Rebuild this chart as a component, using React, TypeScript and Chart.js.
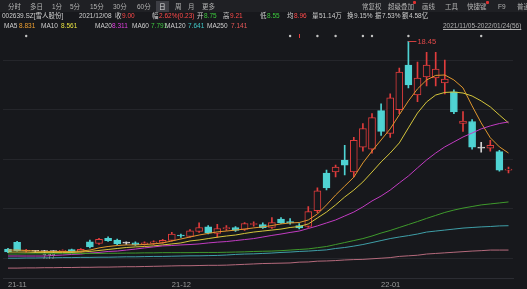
import React, { useEffect, useRef } from "react";
import { Chart, registerables } from "chart.js";

Chart.register(...registerables);

const dates = [
  "2021-11-05","2021-11-08","2021-11-09","2021-11-10","2021-11-11","2021-11-12","2021-11-15","2021-11-16","2021-11-17","2021-11-18",
  "2021-11-19","2021-11-22","2021-11-23","2021-11-24","2021-11-25","2021-11-26","2021-11-29","2021-11-30",
  "2021-12-01","2021-12-02","2021-12-03","2021-12-06","2021-12-07","2021-12-08","2021-12-09","2021-12-10","2021-12-13","2021-12-14",
  "2021-12-15","2021-12-16","2021-12-17","2021-12-20","2021-12-21","2021-12-22","2021-12-23","2021-12-24","2021-12-27","2021-12-28",
  "2021-12-29","2021-12-30","2021-12-31",
  "2022-01-04","2022-01-05","2022-01-06","2022-01-07","2022-01-10","2022-01-11","2022-01-12","2022-01-13","2022-01-14","2022-01-17",
  "2022-01-18","2022-01-19","2022-01-20","2022-01-21","2022-01-24",
];
const monthTickLabels = ["21-11", "21-12", "22-01"];

const opens = [
  7.96, 8.30, 7.86, 7.85, 7.84, 7.83, 7.85, 7.93, 7.82, 8.32,
  8.24, 8.50, 8.42, 8.26, 8.27, 8.20, 8.25, 8.30, 8.40, 8.66,
  8.60, 8.85, 9.08, 8.75, 8.98, 9.05, 8.95, 9.20, 9.20, 9.05,
  9.48, 9.35, 9.15, 9.10, 9.90, 11.80, 11.85, 12.45, 11.85, 13.10,
  13.00, 14.95, 13.80, 15.00, 17.25, 15.75, 16.65, 16.60, 16.35, 15.90,
  14.30, 14.40, 13.06, 13.05, 12.88, 11.95,
];
const highs = [
  8.00, 8.35, 7.95, 7.90, 7.90, 7.88, 7.92, 7.96, 7.98, 8.42,
  8.50, 8.58, 8.46, 8.33, 8.32, 8.32, 8.38, 8.45, 8.80, 8.72,
  8.95, 9.28, 9.15, 9.21, 9.15, 9.10, 9.30, 9.33, 9.28, 9.55,
  9.55, 9.50, 9.25, 10.10, 11.05, 11.95, 12.20, 13.20, 13.60, 14.30,
  14.80, 15.30, 15.80, 17.10, 18.45, 17.40, 17.90, 17.90, 17.50, 16.00,
  14.90, 14.50, 13.35, 13.45, 12.95, 12.10,
];
const lows = [
  7.78, 7.85, 7.80, 7.79, 7.77, 7.78, 7.80, 7.78, 7.80, 8.02,
  8.20, 8.35, 8.18, 8.20, 8.15, 8.16, 8.20, 8.26, 8.36, 8.55,
  8.56, 8.80, 8.72, 8.55, 8.90, 8.85, 8.90, 9.12, 9.00, 9.00,
  9.25, 9.22, 8.98, 9.05, 9.80, 10.95, 11.60, 11.70, 11.60, 12.90,
  12.80, 13.70, 13.60, 14.80, 16.10, 15.40, 16.20, 16.20, 15.80, 14.80,
  13.90, 13.00, 12.85, 12.90, 11.90, 11.80,
];
const closes = [
  7.82, 7.88, 7.90, 7.85, 7.84, 7.83, 7.88, 7.80, 7.95, 8.07,
  8.45, 8.38, 8.22, 8.26, 8.18, 8.28, 8.33, 8.40, 8.72, 8.62,
  8.88, 9.05, 8.77, 9.00, 9.05, 8.90, 9.25, 9.25, 9.04, 9.30,
  9.28, 9.28, 9.03, 9.85, 10.90, 11.05, 12.10, 12.20, 13.45, 14.05,
  14.60, 13.90, 15.60, 16.90, 16.25, 16.60, 17.25, 17.05, 16.55, 14.88,
  14.42, 13.10, 13.06, 13.20, 11.95, 12.00,
];

const ma5 = [
  7.91, 7.91, 7.89, 7.86, 7.84, 7.84, 7.84, 7.84, 7.86, 7.91,
  8.02, 8.09, 8.14, 8.17, 8.17, 8.19, 8.22, 8.27, 8.37, 8.47,
  8.57, 8.67, 8.75, 8.83, 8.87, 8.92, 8.97, 9.03, 9.08, 9.15,
  9.23, 9.28, 9.30, 9.43, 9.73, 10.19, 10.69, 11.14, 11.59, 12.31,
  12.91, 13.47, 14.03, 14.74, 15.44, 16.05, 16.50, 16.73, 16.75, 16.50,
  16.10, 15.19, 14.33, 13.58, 13.12, 12.81,
];
const ma10 = [
  7.81, 7.81, 7.81, 7.79, 7.79, 7.79, 7.79, 7.79, 7.81, 7.84,
  7.89, 7.94, 7.99, 8.04, 8.07, 8.09, 8.12, 8.17, 8.22, 8.27,
  8.37, 8.42, 8.49, 8.56, 8.62, 8.67, 8.75, 8.82, 8.87, 8.92,
  8.97, 9.05, 9.10, 9.23, 9.53, 9.83, 10.19, 10.59, 10.94, 11.35,
  11.85, 12.36, 12.81, 13.32, 14.08, 14.83, 15.39, 15.74, 15.87, 15.89,
  15.84, 15.69, 15.44, 15.14, 14.73, 14.33,
];
const ma20 = [
  7.61, 7.61, 7.61, 7.61, 7.61, 7.64, 7.66, 7.69, 7.71, 7.76,
  7.79, 7.84, 7.86, 7.91, 7.96, 8.02, 8.07, 8.12, 8.14, 8.17,
  8.19, 8.22, 8.27, 8.31, 8.34, 8.39, 8.44, 8.49, 8.57, 8.65,
  8.72, 8.80, 8.87, 9.00, 9.13, 9.28, 9.43, 9.63, 9.83, 10.09,
  10.39, 10.64, 10.94, 11.30, 11.65, 12.06, 12.46, 12.81, 13.12, 13.37,
  13.62, 13.82, 14.03, 14.18, 14.30, 14.38,
];
const ma60 = [
  7.71, 7.71, 7.72, 7.72, 7.72, 7.73, 7.73, 7.73, 7.74, 7.74,
  7.74, 7.75, 7.75, 7.76, 7.76, 7.77, 7.77, 7.78, 7.78, 7.78,
  7.78, 7.79, 7.79, 7.79, 7.80, 7.81, 7.82, 7.84, 7.85, 7.86,
  7.88, 7.91, 7.94, 7.97, 8.03, 8.09, 8.19, 8.29, 8.39, 8.49,
  8.62, 8.77, 8.90, 9.05, 9.20, 9.35, 9.51, 9.66, 9.81, 9.93,
  10.03, 10.11, 10.19, 10.24, 10.29, 10.34,
];
const ma120 = [
  7.50, 7.50, 7.51, 7.51, 7.52, 7.52, 7.53, 7.53, 7.54, 7.54,
  7.55, 7.55, 7.56, 7.57, 7.57, 7.58, 7.59, 7.59, 7.60, 7.61,
  7.62, 7.62, 7.63, 7.64, 7.66, 7.69, 7.71, 7.72, 7.74, 7.76,
  7.79, 7.81, 7.84, 7.86, 7.89, 7.92, 7.99, 8.04, 8.11, 8.19,
  8.29, 8.39, 8.49, 8.57, 8.64, 8.72, 8.82, 8.87, 8.92, 8.97,
  9.02, 9.05, 9.08, 9.10, 9.13, 9.14,
];
const ma250 = [
  7.00, 7.00, 7.01, 7.01, 7.02, 7.02, 7.03, 7.03, 7.04, 7.04,
  7.05, 7.05, 7.06, 7.07, 7.07, 7.08, 7.09, 7.10, 7.11, 7.12,
  7.12, 7.13, 7.14, 7.14, 7.15, 7.17, 7.19, 7.21, 7.23, 7.24,
  7.25, 7.26, 7.30, 7.31, 7.35, 7.36, 7.38, 7.41, 7.43, 7.44,
  7.47, 7.50, 7.53, 7.59, 7.62, 7.65, 7.71, 7.74, 7.77, 7.80,
  7.83, 7.86, 7.88, 7.91, 7.91, 7.91,
];

const eventMarkers = [2, 31, 34, 36, 39, 40, 44, 52];
const alertMarkers = [32];

const BG = "#17181c";
const UP = "#e03c3c";
const DOWN = "#4fd3d3";
const FLAT = "#d2d2d2";
const FONT = '"Liberation Sans", "Noto Sans CJK SC", sans-serif';

const candleColor = (i: number) =>
  closes[i] > opens[i] ? UP : closes[i] < opens[i] ? DOWN : FLAT;

const annotate = {
  id: "annotate",
  afterDatasetsDraw(chart: any) {
    const { ctx, chartArea, scales } = chart;
    const x = scales.x;
    const y = scales.y;
    ctx.save();
    ctx.fillStyle = "#c4c4c4";
    for (const i of eventMarkers) {
      ctx.beginPath();
      ctx.arc(x.getPixelForValue(i), chartArea.top + 2, 1.2, 0, Math.PI * 2);
      ctx.fill();
    }
    ctx.strokeStyle = UP;
    ctx.lineWidth = 1;
    for (const i of alertMarkers) {
      const px = Math.round(x.getPixelForValue(i)) + 0.5;
      ctx.beginPath();
      ctx.moveTo(px, chartArea.top);
      ctx.lineTo(px, chartArea.top + 4);
      ctx.stroke();
    }
    let hi = 0;
    highs.forEach((v, i) => { if (v > highs[hi]) hi = i; });
    const hx = x.getPixelForValue(hi);
    const hy = Math.round(y.getPixelForValue(highs[hi])) + 0.5;
    ctx.strokeStyle = "#d04040";
    ctx.beginPath();
    ctx.moveTo(hx, hy);
    ctx.lineTo(hx + 8, hy);
    ctx.stroke();
    ctx.fillStyle = "#e04848";
    ctx.font = "7.5px " + FONT;
    ctx.textBaseline = "middle";
    ctx.textAlign = "left";
    ctx.fillText(highs[hi].toFixed(2), hx + 9, hy);
    let lo = 0;
    lows.forEach((v, i) => { if (v < lows[lo]) lo = i; });
    const lx = x.getPixelForValue(lo);
    const ly = y.getPixelForValue(lows[lo]);
    ctx.fillStyle = "#a9b0a0";
    ctx.font = "6.5px " + FONT;
    ctx.fillText(lows[lo].toFixed(2), lx - 2, ly + 4);
    ctx.restore();
  },
};

function T(props: { x: number; y: number; c?: string; u?: boolean; children: any }) {
  return (
    <span
      style={{
        position: "absolute",
        left: props.x,
        top: props.y,
        color: props.c || "#cfcfcf",
        fontSize: "6.5px",
        lineHeight: "10px",
        whiteSpace: "nowrap",
        textDecoration: props.u ? "underline" : "none",
      }}
    >
      {props.children}
    </span>
  );
}

export default function App() {
  const ref = useRef<HTMLCanvasElement | null>(null);

  useEffect(() => {
    document.body.style.margin = "0";
    document.body.style.background = BG;
    const colors = opens.map((_, i) => candleColor(i));
    const monthStarts: number[] = [];
    dates.forEach((d, i) => {
      if (i === 0 || d.slice(0, 7) !== dates[i - 1].slice(0, 7)) monthStarts.push(i);
    });
    const lineDs = (label: string, data: number[], color: string) => ({
      type: "line" as const,
      label,
      data,
      borderColor: color,
      borderWidth: 1,
      pointRadius: 0,
      tension: 0,
      order: 0,
    });
    const chart = new Chart(ref.current as HTMLCanvasElement, {
      type: "bar",
      data: {
        labels: dates,
        datasets: [
          lineDs("MA250", ma250, "#b56a7c"),
          lineDs("MA120", ma120, "#3f9fa8"),
          lineDs("MA60", ma60, "#3f9a2c"),
          lineDs("MA20", ma20, "#c23cc2"),
          lineDs("MA10", ma10, "#d4c53c"),
          lineDs("MA5", ma5, "#e0982e"),
          {
            type: "bar",
            label: "body",
            data: opens.map((o, i) => [o, closes[i]]),
            backgroundColor: colors.map((c) => (c === UP ? BG : c)),
            borderColor: colors,
            borderWidth: 1,
            borderSkipped: false,
            barThickness: 7,
            minBarLength: 1,
            grouped: false,
            order: 1,
          } as any,
          {
            type: "bar",
            label: "wick",
            data: lows.map((l, i) => [l, highs[i]]),
            backgroundColor: colors,
            borderWidth: 0,
            barThickness: 1,
            grouped: false,
            order: 2,
          } as any,
        ],
      },
      options: {
        responsive: false,
        animation: false,
        devicePixelRatio: 1,
        layout: { padding: { left: 3.45, right: 13.95, top: 34, bottom: 0 } },
        plugins: { legend: { display: false }, tooltip: { enabled: false } },
        scales: {
          x: {
            type: "category",
            offset: true,
            grid: { display: false, drawTicks: false, tickLength: 0 },
            border: { display: true, color: "#2c2d33" },
            afterFit: (s: any) => { s.height = 11; },
            ticks: {
              autoSkip: false,
              maxRotation: 0,
              align: "start",
              padding: 2,
              color: "#9c9c9c",
              font: { size: 7.5, family: FONT },
              callback: (_v: any, i: number) => {
                const k = monthStarts.indexOf(i);
                return k >= 0 ? monthTickLabels[k] : "";
              },
            },
          },
          y: {
            type: "linear",
            min: 6.5,
            max: 18.82,
            afterFit: (s: any) => { s.width = 0; },
            border: { display: false },
            ticks: { display: false, stepSize: 2.5 },
            grid: {
              drawTicks: false,
              color: (ctx: any) =>
                ctx.tick && Math.abs((ctx.tick.value / 2.5) - Math.round(ctx.tick.value / 2.5)) < 1e-6
                  ? "#25262b"
                  : "rgba(0,0,0,0)",
            },
          },
        },
      } as any,
      plugins: [annotate],
    });
    return () => chart.destroy();
  }, []);

  return (
    <div
      style={{
        position: "relative",
        width: 527,
        height: 289,
        overflow: "hidden",
        background: BG,
        fontFamily: FONT,
      }}
    >
      <canvas ref={ref} width={527} height={289} style={{ position: "absolute", left: 0, top: 0, width: 527, height: 289 }} />
      <div style={{ position: "absolute", left: 0, top: 0, width: 527, height: 12, background: "#1f2024" }} />
      <div style={{ position: "absolute", left: 156, top: 1, width: 13, height: 11, background: "#3d3e44" }} />
      <div style={{ position: "absolute", left: 413, top: 1, width: 3, height: 3, background: "#e03030", borderRadius: 1 }} />
      <div style={{ position: "absolute", left: 486, top: 1, width: 3, height: 3, background: "#e03030", borderRadius: 1 }} />
      <T x={8} y={2} c="#b4b4b4">分时</T>
      <T x={30} y={2} c="#b4b4b4">多日</T>
      <T x={52} y={2} c="#b4b4b4">1分</T>
      <T x={70} y={2} c="#b4b4b4">5分</T>
      <T x={90} y={2} c="#b4b4b4">15分</T>
      <T x={113} y={2} c="#b4b4b4">30分</T>
      <T x={137} y={2} c="#b4b4b4">60分</T>
      <T x={159} y={2} c="#e0e0e0">日</T>
      <T x={175} y={2} c="#b4b4b4">周</T>
      <T x={188} y={2} c="#b4b4b4">月</T>
      <T x={202} y={2} c="#b4b4b4">更多</T>
      <T x={362} y={2} c="#b4b4b4">常复权</T>
      <T x={388} y={2} c="#b4b4b4">超级叠加</T>
      <T x={422} y={2} c="#b4b4b4">画线</T>
      <T x={445} y={2} c="#b4b4b4">工具</T>
      <T x={467} y={2} c="#b4b4b4">快捷键</T>
      <T x={498} y={2} c="#b4b4b4">F9</T>
      <T x={517} y={2} c="#b4b4b4">普通</T>

      <T x={2} y={11}>002639.SZ[雪人股份]</T>
      <T x={79} y={11}>2021/12/08</T>
      <T x={115} y={11}>收</T>
      <T x={122} y={11} c="#ff4a4a">9.00</T>
      <T x={152} y={11}>幅</T>
      <T x={159} y={11} c="#ff4a4a">2.62%(0.23)</T>
      <T x={197} y={11}>开</T>
      <T x={204} y={11} c="#3cc83c">8.75</T>
      <T x={223} y={11}>高</T>
      <T x={230} y={11} c="#ff4a4a">9.21</T>
      <T x={260} y={11}>低</T>
      <T x={267} y={11} c="#3cc83c">8.55</T>
      <T x={287} y={11}>均</T>
      <T x={294} y={11} c="#ff4a4a">8.96</T>
      <T x={312} y={11}>量</T>
      <T x={319} y={11}>51.14万</T>
      <T x={347} y={11}>换</T>
      <T x={354} y={11}>9.15%</T>
      <T x={375} y={11}>振</T>
      <T x={382} y={11}>7.53%</T>
      <T x={402} y={11}>额</T>
      <T x={409} y={11}>4.58亿</T>

      <T x={4} y={21}>MA5</T>
      <T x={19} y={21} c="#f0a030">8.831</T>
      <T x={41} y={21}>MA10</T>
      <T x={61} y={21} c="#e6e040">8.561</T>
      <T x={95} y={21}>MA20</T>
      <T x={112} y={21} c="#e040e0">8.311</T>
      <T x={132} y={21}>MA60</T>
      <T x={151} y={21} c="#40c840">7.791</T>
      <T x={165} y={21}>MA120</T>
      <T x={188} y={21} c="#40c8c8">7.641</T>
      <T x={207} y={21}>MA250</T>
      <T x={231} y={21} c="#e85858">7.141</T>
      <T x={443} y={21} c="#b0b0b0" u>2021/11/05-2022/01/24(56)</T>
    </div>
  );
}
